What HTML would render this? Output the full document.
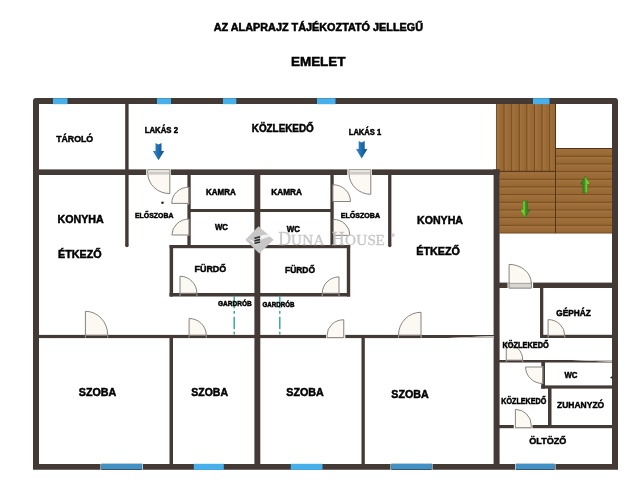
<!DOCTYPE html>
<html><head><meta charset="utf-8"><title>Alaprajz</title>
<style>
html,body{margin:0;padding:0;background:#fff;}
body{width:640px;height:480px;overflow:hidden;font-family:"Liberation Sans",sans-serif;}
svg{display:block}
.t{font-family:"Liberation Sans",sans-serif;font-weight:bold;fill:#000;stroke:#000;stroke-width:0.5px;}
</style></head><body>
<svg width="640" height="480" viewBox="0 0 640 480">
<defs>
<linearGradient id="gv" x1="0" y1="0" x2="1" y2="0"><stop offset="0" stop-color="#a5763f"/><stop offset="0.4" stop-color="#9c6d38"/><stop offset="1" stop-color="#966731"/></linearGradient>
<linearGradient id="gh" x1="0" y1="0" x2="0" y2="1"><stop offset="0" stop-color="#a5763f"/><stop offset="0.4" stop-color="#9c6d38"/><stop offset="1" stop-color="#966731"/></linearGradient>
<linearGradient id="gb" x1="0" y1="0" x2="1" y2="0"><stop offset="0" stop-color="#348bce"/><stop offset="0.5" stop-color="#1e6cae"/><stop offset="1" stop-color="#144e84"/></linearGradient>
<linearGradient id="ggd" x1="0" y1="0" x2="1" y2="0"><stop offset="0" stop-color="#b4e04e"/><stop offset="0.45" stop-color="#6dbb2c"/><stop offset="0.55" stop-color="#3f9422"/><stop offset="1" stop-color="#2c741c"/></linearGradient>
<linearGradient id="ggu" x1="0" y1="0" x2="1" y2="0"><stop offset="0" stop-color="#2c741c"/><stop offset="0.45" stop-color="#3f9422"/><stop offset="0.55" stop-color="#6dbb2c"/><stop offset="1" stop-color="#b4e04e"/></linearGradient>
</defs>
<rect width="640" height="480" fill="#ffffff"/>
<rect x="496.50" y="104.00" width="59.00" height="67.20" fill="#9c6d38" />
<rect x="496.50" y="104" width="7.60" height="67.19999999999999" fill="url(#gv)"/>
<rect x="504.10" y="104" width="7.60" height="67.19999999999999" fill="url(#gv)"/>
<rect x="511.70" y="104" width="7.60" height="67.19999999999999" fill="url(#gv)"/>
<rect x="519.30" y="104" width="7.60" height="67.19999999999999" fill="url(#gv)"/>
<rect x="526.90" y="104" width="7.60" height="67.19999999999999" fill="url(#gv)"/>
<rect x="534.50" y="104" width="7.60" height="67.19999999999999" fill="url(#gv)"/>
<rect x="542.10" y="104" width="7.60" height="67.19999999999999" fill="url(#gv)"/>
<rect x="549.70" y="104" width="5.80" height="67.19999999999999" fill="url(#gv)"/>
<line x1="496.50" y1="104" x2="496.50" y2="171.2" stroke="#74491e" stroke-width="0.9"/>
<line x1="504.10" y1="104" x2="504.10" y2="171.2" stroke="#74491e" stroke-width="0.9"/>
<line x1="511.70" y1="104" x2="511.70" y2="171.2" stroke="#74491e" stroke-width="0.9"/>
<line x1="519.30" y1="104" x2="519.30" y2="171.2" stroke="#74491e" stroke-width="0.9"/>
<line x1="526.90" y1="104" x2="526.90" y2="171.2" stroke="#74491e" stroke-width="0.9"/>
<line x1="534.50" y1="104" x2="534.50" y2="171.2" stroke="#74491e" stroke-width="0.9"/>
<line x1="542.10" y1="104" x2="542.10" y2="171.2" stroke="#74491e" stroke-width="0.9"/>
<line x1="549.70" y1="104" x2="549.70" y2="171.2" stroke="#74491e" stroke-width="0.9"/>
<rect x="555.50" y="148.30" width="56.50" height="84.90" fill="#9c6d38" />
<rect x="555.5" y="148.60" width="56.5" height="7.67" fill="url(#gh)"/>
<rect x="555.5" y="156.27" width="56.5" height="7.67" fill="url(#gh)"/>
<rect x="555.5" y="163.94" width="56.5" height="7.67" fill="url(#gh)"/>
<rect x="555.5" y="171.61" width="56.5" height="7.67" fill="url(#gh)"/>
<rect x="555.5" y="179.28" width="56.5" height="7.67" fill="url(#gh)"/>
<rect x="555.5" y="186.95" width="56.5" height="7.67" fill="url(#gh)"/>
<rect x="555.5" y="194.62" width="56.5" height="7.67" fill="url(#gh)"/>
<rect x="555.5" y="202.29" width="56.5" height="7.67" fill="url(#gh)"/>
<rect x="555.5" y="209.96" width="56.5" height="7.67" fill="url(#gh)"/>
<rect x="555.5" y="217.63" width="56.5" height="7.67" fill="url(#gh)"/>
<rect x="555.5" y="225.30" width="56.5" height="7.67" fill="url(#gh)"/>
<line x1="555.5" y1="148.60" x2="612" y2="148.60" stroke="#74491e" stroke-width="0.9"/>
<line x1="555.5" y1="156.27" x2="612" y2="156.27" stroke="#74491e" stroke-width="0.9"/>
<line x1="555.5" y1="163.94" x2="612" y2="163.94" stroke="#74491e" stroke-width="0.9"/>
<line x1="555.5" y1="171.61" x2="612" y2="171.61" stroke="#74491e" stroke-width="0.9"/>
<line x1="555.5" y1="179.28" x2="612" y2="179.28" stroke="#74491e" stroke-width="0.9"/>
<line x1="555.5" y1="186.95" x2="612" y2="186.95" stroke="#74491e" stroke-width="0.9"/>
<line x1="555.5" y1="194.62" x2="612" y2="194.62" stroke="#74491e" stroke-width="0.9"/>
<line x1="555.5" y1="202.29" x2="612" y2="202.29" stroke="#74491e" stroke-width="0.9"/>
<line x1="555.5" y1="209.96" x2="612" y2="209.96" stroke="#74491e" stroke-width="0.9"/>
<line x1="555.5" y1="217.63" x2="612" y2="217.63" stroke="#74491e" stroke-width="0.9"/>
<line x1="555.5" y1="225.30" x2="612" y2="225.30" stroke="#74491e" stroke-width="0.9"/>
<line x1="555.5" y1="232.97" x2="612" y2="232.97" stroke="#74491e" stroke-width="0.9"/>
<rect x="499.50" y="171.00" width="56.00" height="62.20" fill="#9c6d38" />
<rect x="499.5" y="171.61" width="56.0" height="7.67" fill="url(#gh)"/>
<rect x="499.5" y="179.28" width="56.0" height="7.67" fill="url(#gh)"/>
<rect x="499.5" y="186.95" width="56.0" height="7.67" fill="url(#gh)"/>
<rect x="499.5" y="194.62" width="56.0" height="7.67" fill="url(#gh)"/>
<rect x="499.5" y="202.29" width="56.0" height="7.67" fill="url(#gh)"/>
<rect x="499.5" y="209.96" width="56.0" height="7.67" fill="url(#gh)"/>
<rect x="499.5" y="217.63" width="56.0" height="7.67" fill="url(#gh)"/>
<rect x="499.5" y="225.30" width="56.0" height="7.67" fill="url(#gh)"/>
<line x1="499.5" y1="171.61" x2="555.5" y2="171.61" stroke="#74491e" stroke-width="0.9"/>
<line x1="499.5" y1="179.28" x2="555.5" y2="179.28" stroke="#74491e" stroke-width="0.9"/>
<line x1="499.5" y1="186.95" x2="555.5" y2="186.95" stroke="#74491e" stroke-width="0.9"/>
<line x1="499.5" y1="194.62" x2="555.5" y2="194.62" stroke="#74491e" stroke-width="0.9"/>
<line x1="499.5" y1="202.29" x2="555.5" y2="202.29" stroke="#74491e" stroke-width="0.9"/>
<line x1="499.5" y1="209.96" x2="555.5" y2="209.96" stroke="#74491e" stroke-width="0.9"/>
<line x1="499.5" y1="217.63" x2="555.5" y2="217.63" stroke="#74491e" stroke-width="0.9"/>
<line x1="499.5" y1="225.30" x2="555.5" y2="225.30" stroke="#74491e" stroke-width="0.9"/>
<line x1="499.5" y1="232.97" x2="555.5" y2="232.97" stroke="#74491e" stroke-width="0.9"/>
<line x1="555.5" y1="104" x2="555.5" y2="233.2" stroke="#553618" stroke-width="1"/>
<line x1="496.5" y1="171.3" x2="555.5" y2="171.3" stroke="#553618" stroke-width="1"/>
<line x1="555.5" y1="148.5" x2="612" y2="148.5" stroke="#553618" stroke-width="1"/>
<path d="M33 469.7 V101 Q33 98 36 98 H615 Q618 98 618 101 V469.7 Z M39 104 V463.9 H612 V104 Z" fill="#433935" fill-rule="evenodd"/>
<rect x="125.20" y="104.00" width="3.40" height="141.60" fill="#433935" />
<circle cx="126.9" cy="245.6" r="1.7" fill="#433935"/>
<rect x="39.00" y="169.40" width="460.60" height="5.60" fill="#433935" />
<rect x="493.60" y="169.40" width="6.00" height="294.60" fill="#433935" />
<rect x="254.40" y="175.00" width="5.90" height="289.00" fill="#433935" />
<rect x="187.40" y="175.00" width="3.30" height="73.00" fill="#433935" />
<rect x="330.40" y="175.00" width="3.30" height="73.00" fill="#433935" />
<rect x="388.10" y="175.00" width="3.30" height="70.60" fill="#433935" />
<circle cx="389.75" cy="245.6" r="1.65" fill="#433935"/>
<rect x="190.00" y="209.00" width="141.00" height="3.00" fill="#433935" />
<rect x="169.60" y="245.00" width="180.60" height="3.20" fill="#433935" />
<rect x="169.60" y="245.00" width="3.50" height="51.50" fill="#433935" />
<rect x="346.80" y="245.00" width="3.40" height="51.50" fill="#433935" />
<rect x="169.50" y="293.00" width="180.50" height="3.50" fill="#433935" />
<rect x="39.00" y="334.90" width="382.50" height="3.20" fill="#433935" />
<path d="M421.5 334.9 H494 V335.9 L448 338.1 H421.5 Z" fill="#433935"/>
<path d="M448 338.1 L494 335.9 V338.1 Z" fill="#bdb8b4"/>
<rect x="169.50" y="336.00" width="3.50" height="128.00" fill="#433935" />
<rect x="361.50" y="336.00" width="3.30" height="128.00" fill="#433935" />
<rect x="499.00" y="282.60" width="113.00" height="5.40" fill="#433935" />
<rect x="540.00" y="288.00" width="3.30" height="50.00" fill="#433935" />
<rect x="540.00" y="334.80" width="72.00" height="3.20" fill="#433935" />
<path d="M499 360 H572 L612 361.7 V362.6 H499 Z" fill="#433935"/>
<path d="M572 360 H612 V361.7 Z" fill="#c4c0bc"/>
<rect x="541.30" y="362.00" width="3.70" height="26.60" fill="#433935" />
<rect x="541.30" y="385.40" width="70.70" height="3.20" fill="#433935" />
<rect x="548.00" y="388.00" width="3.50" height="40.00" fill="#433935" />
<rect x="499.00" y="425.00" width="113.00" height="3.20" fill="#433935" />
<rect x="53.00" y="98.20" width="14.50" height="6.00" fill="#47b0ea" />
<rect x="157.00" y="98.20" width="14.00" height="6.00" fill="#47b0ea" />
<rect x="223.00" y="98.20" width="13.30" height="6.00" fill="#47b0ea" />
<rect x="317.00" y="98.20" width="18.50" height="6.00" fill="#47b0ea" />
<rect x="533.00" y="98.20" width="16.50" height="6.00" fill="#47b0ea" />
<rect x="193.80" y="463.80" width="30.00" height="6.10" fill="#47b0ea" />
<rect x="290.80" y="463.80" width="31.70" height="6.10" fill="#47b0ea" />
<rect x="100.50" y="463.30" width="42.50" height="6.70" fill="#f2f6f8" />
<rect x="101.30" y="463.80" width="40.90" height="6.20" fill="#3b4650" />
<rect x="101.30" y="463.90" width="40.90" height="5.30" fill="#4191c6" />
<rect x="390.50" y="463.30" width="42.00" height="6.70" fill="#f2f6f8" />
<rect x="391.30" y="463.80" width="40.40" height="6.20" fill="#3b4650" />
<rect x="391.30" y="463.90" width="40.40" height="5.30" fill="#4191c6" />
<rect x="515.00" y="463.30" width="40.50" height="6.70" fill="#f2f6f8" />
<rect x="515.80" y="463.80" width="38.90" height="6.20" fill="#3b4650" />
<rect x="515.80" y="463.90" width="38.90" height="5.30" fill="#4191c6" />
<rect x="146.20" y="169.20" width="24.70" height="6.10" fill="#ffffff" />
<path d="M169.8 169.8 L169.8 193.6 A22.00 20.40 0 0 1 147.8 173.2 L147.8 169.8 Z" fill="#fcf8f2" stroke="#7a7672" stroke-width="0.9" stroke-linejoin="round"/>
<rect x="148.50" y="170.40" width="20.60" height="1.60" fill="#ebe8e3" />
<rect x="148.50" y="172.00" width="20.60" height="2.60" fill="#cdc9c4" />
<rect x="347.30" y="169.20" width="24.70" height="6.10" fill="#ffffff" />
<path d="M370.8 169.8 L370.8 194.3 A21.80 21.10 0 0 1 349 173.2 L349 169.8 Z" fill="#fcf8f2" stroke="#7a7672" stroke-width="0.9" stroke-linejoin="round"/>
<rect x="349.70" y="170.40" width="20.40" height="1.60" fill="#ebe8e3" />
<rect x="349.70" y="172.00" width="20.40" height="2.60" fill="#cdc9c4" />
<rect x="187.30" y="187.00" width="1.90" height="17.20" fill="#f4f1ec" />
<rect x="187.30" y="187.00" width="1.90" height="0.60" fill="#a8a4a0" />
<rect x="187.30" y="203.60" width="1.90" height="0.60" fill="#a8a4a0" />
<path d="M188.60 203.40 L171.70 203.40 A16.90 16.20 0 0 1 188.60 187.20 Z" fill="#fcf8f2" stroke="#7a7672" stroke-width="0.9" stroke-linejoin="round"/>
<rect x="187.30" y="219.00" width="1.90" height="16.60" fill="#f4f1ec" />
<rect x="187.30" y="219.00" width="1.90" height="0.60" fill="#a8a4a0" />
<rect x="187.30" y="235.00" width="1.90" height="0.60" fill="#a8a4a0" />
<path d="M188.90 235.00 L171.90 235.00 A17.00 15.90 0 0 1 188.90 219.10 Z" fill="#fcf8f2" stroke="#7a7672" stroke-width="0.9" stroke-linejoin="round"/>
<rect x="332.90" y="184.60" width="1.10" height="17.30" fill="#f4f1ec" />
<rect x="332.90" y="184.60" width="1.10" height="0.60" fill="#a8a4a0" />
<rect x="332.90" y="201.30" width="1.10" height="0.60" fill="#a8a4a0" />
<path d="M332.90 201.50 L350.50 201.50 A17.60 16.80 0 0 0 332.90 184.70 Z" fill="#fcf8f2" stroke="#7a7672" stroke-width="0.9" stroke-linejoin="round"/>
<path d="M333.30 235.40 L350.00 235.40 A16.70 16.00 0 0 0 333.30 219.40 Z" fill="#fcf8f2" stroke="#7a7672" stroke-width="0.9" stroke-linejoin="round"/>
<path d="M180.00 293.30 L180.00 276.25 A16.90 17.05 0 0 1 196.90 293.30 Z" fill="#fcf8f2" stroke="#7a7672" stroke-width="0.9" stroke-linejoin="round"/>
<rect x="179.50" y="293.40" width="1.00" height="2.70" fill="#a39e9a" />
<rect x="196.40" y="293.40" width="1.00" height="2.70" fill="#a39e9a" />
<path d="M339.00 293.30 L339.00 276.90 A16.75 16.40 0 0 0 322.25 293.30 Z" fill="#fcf8f2" stroke="#7a7672" stroke-width="0.9" stroke-linejoin="round"/>
<rect x="338.50" y="293.40" width="1.00" height="2.70" fill="#a39e9a" />
<rect x="321.75" y="293.40" width="1.00" height="2.70" fill="#a39e9a" />
<path d="M85.40 335.20 L85.40 311.25 A22.35 23.95 0 0 1 107.75 335.20 Z" fill="#fcf8f2" stroke="#7a7672" stroke-width="0.9" stroke-linejoin="round"/>
<rect x="84.90" y="335.30" width="1.00" height="2.40" fill="#a39e9a" />
<rect x="107.25" y="335.30" width="1.00" height="2.40" fill="#a39e9a" />
<path d="M189.10 335.20 L189.10 318.50 A17.15 16.70 0 0 1 206.25 335.20 Z" fill="#fcf8f2" stroke="#7a7672" stroke-width="0.9" stroke-linejoin="round"/>
<rect x="188.60" y="335.30" width="1.00" height="2.40" fill="#a39e9a" />
<rect x="205.75" y="335.30" width="1.00" height="2.40" fill="#a39e9a" />
<rect x="326.00" y="334.50" width="19.30" height="3.80" fill="#ffffff" />
<path d="M343.75 335.20 L343.75 319.75 A16.65 15.45 0 0 0 327.10 335.20 L327.1 337.6 L343.75 337.6 Z" fill="#fcf8f2" stroke="#7a7672" stroke-width="0.9" stroke-linejoin="round"/>
<path d="M421.00 335.20 L421.00 312.25 A22.50 22.95 0 0 0 398.50 335.20 Z" fill="#fcf8f2" stroke="#7a7672" stroke-width="0.9" stroke-linejoin="round"/>
<rect x="420.50" y="335.30" width="1.00" height="2.40" fill="#a39e9a" />
<rect x="398.00" y="335.30" width="1.00" height="2.40" fill="#a39e9a" />
<rect x="507.50" y="282.40" width="25.60" height="5.90" fill="#ffffff" />
<rect x="509.10" y="283.20" width="22.15" height="4.80" fill="#dcd9d4" />
<path d="M509.10 283.20 L509.10 264.40 A22.15 18.80 0 0 1 531.25 283.20 L531.25 288 L509.1 288 Z" fill="#fcf8f2" stroke="#7a7672" stroke-width="0.9" stroke-linejoin="round"/>
<rect x="509.1" y="283.2" width="22.15" height="4.8" fill="#d9d6d1" stroke="#7a7672" stroke-width="0.6"/>
<path d="M548.10 335.40 L548.10 319.60 A16.65 15.80 0 0 1 564.75 335.40 Z" fill="#fcf8f2" stroke="#7a7672" stroke-width="0.9" stroke-linejoin="round"/>
<rect x="547.60" y="335.30" width="1.00" height="2.40" fill="#a39e9a" />
<rect x="564.25" y="335.30" width="1.00" height="2.40" fill="#a39e9a" />
<path d="M506.25 360.20 L506.25 343.40 A16.50 16.80 0 0 1 522.75 360.20 Z" fill="#fcf8f2" stroke="#7a7672" stroke-width="0.9" stroke-linejoin="round"/>
<rect x="505.75" y="360.30" width="1.00" height="2.00" fill="#a39e9a" />
<rect x="522.25" y="360.30" width="1.00" height="2.00" fill="#a39e9a" />
<rect x="541.20" y="366.30" width="2.00" height="17.60" fill="#f4f1ec" />
<rect x="541.20" y="366.30" width="2.00" height="0.60" fill="#a8a4a0" />
<rect x="541.20" y="383.30" width="2.00" height="0.60" fill="#a8a4a0" />
<path d="M542.60 367.00 L525.60 367.00 A17.00 16.50 0 0 0 542.60 383.50 Z" fill="#fcf8f2" stroke="#7a7672" stroke-width="0.9" stroke-linejoin="round"/>
<rect x="513.75" y="424.80" width="18.75" height="3.60" fill="#ffffff" />
<path d="M515.40 425.20 L515.40 409.40 A15.85 15.80 0 0 1 531.25 425.20 L531.25 427.7 L515.4 427.7 Z" fill="#fcf8f2" stroke="#7a7672" stroke-width="0.9" stroke-linejoin="round"/>
<circle cx="162.5" cy="202.8" r="1.3" fill="#2a2624"/>
<path d="M612.4 375.9 L610 377.5 L612.4 379.1 Z" fill="#2e2825"/>
<line x1="234.2" y1="295.8" x2="234.2" y2="334.8" stroke="#2ca58d" stroke-width="1.4" stroke-dasharray="12.4 2.7 2.8 3"/>
<line x1="279.8" y1="295.8" x2="279.8" y2="334.8" stroke="#2ca58d" stroke-width="1.4" stroke-dasharray="12.4 2.7 2.8 3"/>
<path d="M155.5 143 L158.5 144.5 L161.5 143 V150.9 H164.2 L158.5 160.3 L152.8 150.9 H155.5 Z" fill="url(#gb)"/>
<path d="M358.7 141.1 L361.7 142.6 L364.7 141.1 V149.0 H367.4 L361.7 158.4 L356.0 149.0 H358.7 Z" fill="url(#gb)"/>
<path d="M585.3 175.9 L590.0999999999999 184.1 H587.6999999999999 V192.9 H582.9 V184.1 H580.5 Z" fill="url(#ggu)" stroke="#2f6a1c" stroke-width="0.5"/>
<path d="M522.6 201 H527.4 V209.8 H529.8 L525 218 L520.2 209.8 H522.6 Z" fill="url(#ggd)" stroke="#2f6a1c" stroke-width="0.5"/>
<g>
<path d="M258.6 226.3 L273.6 239.7 L259.3 253.6 L245.3 239.7 Z" fill="#c7c7c7"/>
<path d="M247.8 239.6 C251 240.2 253 242.6 254.6 245 L260.1 243.6 L260.1 240 C262.5 238.6 266.5 237.6 270.6 236.2 C266 233.8 262 234.8 260.1 236.6 L260.1 241.5 L254.6 242.8 C253 240.6 251 239.4 247.8 239.6 Z" fill="#f3f3f3"/>
<path d="M254.4 237.3 L260.1 236.0 L260.1 237.8 L254.4 239.1 Z M254.4 239.9 L260.1 238.6 L260.1 240.4 L254.4 241.7 Z M254.4 242.5 L260.1 241.2 L260.1 243.0 L254.4 244.3 Z " fill="#333333"/>
</g>
<g style="filter:grayscale(1)" font-family="Liberation Serif, serif" fill="#c0c0c0" fill-opacity="0.85" stroke="#c0c0c0" stroke-opacity="0.85" stroke-width="0.3"><text transform="translate(278.3,244.9) scale(1.0,1)" font-size="17.8">D</text><text transform="translate(291,244.9) scale(1.1,1)" font-size="13.8">U</text><text transform="translate(302.2,244.9) scale(1.1,1)" font-size="13.8">N</text><text transform="translate(313.6,244.9) scale(1.1,1)" font-size="13.8">A</text><text transform="translate(331.8,244.9) scale(1.0,1)" font-size="17.8">H</text><text transform="translate(345,244.9) scale(1.1,1)" font-size="13.8">O</text><text transform="translate(356.2,244.9) scale(1.1,1)" font-size="13.8">U</text><text transform="translate(367.5,244.9) scale(1.1,1)" font-size="13.8">S</text><text transform="translate(375.6,244.9) scale(1.1,1)" font-size="13.8">E</text>
<text x="390.9" y="236.6" font-size="5">®</text></g>
<g style="filter:grayscale(1)">
<text x="213.75" y="30.5" font-size="10.4" textLength="209.25" lengthAdjust="spacingAndGlyphs" class="t">AZ ALAPRAJZ TÁJÉKOZTATÓ JELLEGŰ</text>
<text x="291" y="65.5" font-size="13" textLength="54.50" lengthAdjust="spacingAndGlyphs" class="t">EMELET</text>
<text x="56.2" y="141.9" font-size="9.84" textLength="37.00" lengthAdjust="spacingAndGlyphs" class="t">TÁROLÓ</text>
<text x="144.75" y="132.6" font-size="8.56" textLength="33.25" lengthAdjust="spacingAndGlyphs" class="t">LAKÁS 2</text>
<text x="251.75" y="132" font-size="11.02" textLength="62.00" lengthAdjust="spacingAndGlyphs" class="t">KÖZLEKEDŐ</text>
<text x="348.75" y="134.5" font-size="8.56" textLength="32.50" lengthAdjust="spacingAndGlyphs" class="t">LAKÁS 1</text>
<text x="206" y="195" font-size="8.88" textLength="29.75" lengthAdjust="spacingAndGlyphs" class="t">KAMRA</text>
<text x="271.25" y="194.6" font-size="8.88" textLength="30.75" lengthAdjust="spacingAndGlyphs" class="t">KAMRA</text>
<text x="135" y="218" font-size="7.81" textLength="38.50" lengthAdjust="spacingAndGlyphs" class="t">ELŐSZOBA</text>
<text x="340.75" y="217.6" font-size="7.81" textLength="39.25" lengthAdjust="spacingAndGlyphs" class="t">ELŐSZOBA</text>
<text x="57.5" y="222.6" font-size="11.77" textLength="46.25" lengthAdjust="spacingAndGlyphs" class="t">KONYHA</text>
<text x="58" y="258" font-size="11.77" textLength="43.75" lengthAdjust="spacingAndGlyphs" class="t">ÉTKEZŐ</text>
<text x="417" y="223.75" font-size="11.77" textLength="46.00" lengthAdjust="spacingAndGlyphs" class="t">KONYHA</text>
<text x="416.25" y="255" font-size="11.77" textLength="43.75" lengthAdjust="spacingAndGlyphs" class="t">ÉTKEZŐ</text>
<text x="215" y="230" font-size="8.88" textLength="13.00" lengthAdjust="spacingAndGlyphs" class="t">WC</text>
<text x="286.75" y="231.75" font-size="8.88" textLength="13.25" lengthAdjust="spacingAndGlyphs" class="t">WC</text>
<text x="194.5" y="272" font-size="9.63" textLength="31.75" lengthAdjust="spacingAndGlyphs" class="t">FÜRDŐ</text>
<text x="285" y="273" font-size="9.63" textLength="30.00" lengthAdjust="spacingAndGlyphs" class="t">FÜRDŐ</text>
<text x="218" y="306.25" font-size="7.28" textLength="33.75" lengthAdjust="spacingAndGlyphs" class="t">GARDRÓB</text>
<text x="262.5" y="306.75" font-size="7.28" textLength="32.00" lengthAdjust="spacingAndGlyphs" class="t">GARDRÓB</text>
<text x="78.75" y="395.5" font-size="11.34" textLength="37.50" lengthAdjust="spacingAndGlyphs" class="t">SZOBA</text>
<text x="191.25" y="395.5" font-size="11.34" textLength="36.75" lengthAdjust="spacingAndGlyphs" class="t">SZOBA</text>
<text x="286.25" y="395.5" font-size="11.34" textLength="37.50" lengthAdjust="spacingAndGlyphs" class="t">SZOBA</text>
<text x="391.25" y="397.5" font-size="11.34" textLength="37.50" lengthAdjust="spacingAndGlyphs" class="t">SZOBA</text>
<text x="556.25" y="316.25" font-size="9.2" textLength="34.50" lengthAdjust="spacingAndGlyphs" class="t">GÉPHÁZ</text>
<text x="502.5" y="348" font-size="8.13" textLength="46.25" lengthAdjust="spacingAndGlyphs" class="t">KÖZLEKEDŐ</text>
<text x="564.5" y="378" font-size="8.88" textLength="13.00" lengthAdjust="spacingAndGlyphs" class="t">WC</text>
<text x="501.25" y="403.75" font-size="8.13" textLength="45.00" lengthAdjust="spacingAndGlyphs" class="t">KÖZLEKEDŐ</text>
<text x="557" y="407.5" font-size="9.95" textLength="47.25" lengthAdjust="spacingAndGlyphs" class="t">ZUHANYZÓ</text>
<text x="529.25" y="443.75" font-size="9.95" textLength="37.00" lengthAdjust="spacingAndGlyphs" class="t">ÖLTÖZŐ</text>
</g>
</svg>
</body></html>
